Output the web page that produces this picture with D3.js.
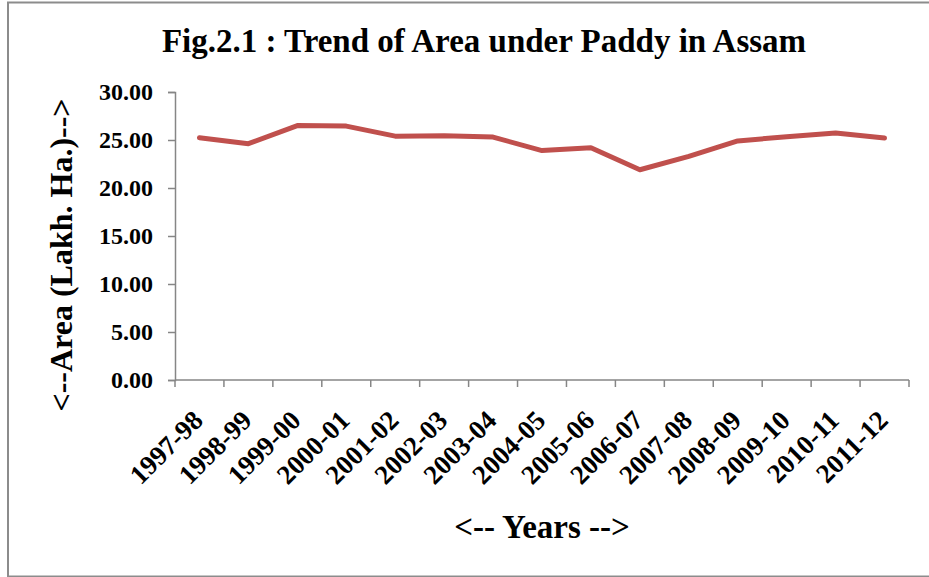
<!DOCTYPE html>
<html>
<head>
<meta charset="utf-8">
<script src="https://cdn.jsdelivr.net/npm/d3@7"></script>
<style>
  body { margin: 0; background: #fff; }
  text { font-family: "Liberation Serif", "Times New Roman", serif; font-weight: bold; fill: #000; }
</style>
</head>
<body>
<script>
var width = 929,
    height = 577;

// chart data
var years = ["1997-98", "1998-99", "1999-00", "2000-01", "2001-02", "2002-03", "2003-04", "2004-05",
    "2005-06", "2006-07", "2007-08", "2008-09", "2009-10", "2010-11", "2011-12"];
var area = [25.24, 24.62, 26.50, 26.45, 25.40, 25.45, 25.30, 23.90, 24.20, 21.90, 23.30, 24.90, 25.35, 25.72, 25.20];
var yTicks = [0, 5, 10, 15, 20, 25, 30];

var svg = d3.select("body").append("svg").attr("width", width).attr("height", height);

// outer frame
svg.append("rect")
    .attr("x", 8).attr("y", 2.5)
    .attr("width", 940).attr("height", 574)
    .attr("fill", "none")
    .attr("stroke", "#8c8c8c")
    .attr("stroke-width", 2);

var x = d3.scaleBand().domain(years).range([175, 909]).padding(0);
var y = d3.scaleLinear().domain([0, 30]).range([380, 92]);

var axisColor = "#868686";

// y axis
var yAxis = svg.append("g")
    .attr("transform", "translate(175,0)")
    .call(d3.axisLeft(y).tickValues(yTicks).tickSize(7).tickPadding(15).tickFormat(d3.format(".2f")));
yAxis.select(".domain").attr("stroke", axisColor).attr("stroke-width", 1.5);
yAxis.selectAll(".tick line").attr("stroke", axisColor).attr("stroke-width", 1.5);
yAxis.selectAll(".tick text")
    .style("font-family", "Liberation Serif, serif")
    .style("font-weight", "bold")
    .style("font-size", "24px")
    .attr("fill", "#000");

// x axis (ticks between categories)
var xAxis = svg.append("g");
xAxis.append("line")
    .attr("x1", x.range()[0]).attr("x2", x.range()[1])
    .attr("y1", y(0)).attr("y2", y(0))
    .attr("stroke", axisColor).attr("stroke-width", 1.5);
var bounds = years.map(function (d) { return x(d); }).concat([x.range()[1]]);
xAxis.selectAll("line.tk")
    .data(bounds)
    .enter()
    .append("line")
    .attr("class", "tk")
    .attr("x1", function (d) { return d; }).attr("x2", function (d) { return d; })
    .attr("y1", y(0)).attr("y2", y(0) + 7)
    .attr("stroke", axisColor).attr("stroke-width", 1.5);

xAxis.selectAll("text.lbl")
    .data(years)
    .enter()
    .append("text")
    .attr("class", "lbl")
    .attr("text-anchor", "end")
    .style("font-size", "27px")
    .attr("transform", function (d) {
        var cx = x(d) + x.bandwidth() / 2 + 5;
        return "translate(" + cx + "," + (y(0) + 42) + ") rotate(-45)";
    })
    .text(function (d) { return d; });

// line
var line = d3.line()
    .x(function (d, i) { return x(years[i]) + x.bandwidth() / 2; })
    .y(function (d) { return y(d); });

svg.append("path")
    .datum(area)
    .attr("d", line)
    .attr("fill", "none")
    .attr("stroke", "#C0504D")
    .attr("stroke-width", 5)
    .attr("stroke-linejoin", "round")
    .attr("stroke-linecap", "round");

// titles
svg.append("text")
    .attr("x", 484).attr("y", 52)
    .attr("text-anchor", "middle")
    .style("font-size", "33px")
    .text("Fig.2.1 : Trend of Area under Paddy in Assam");

svg.append("text")
    .attr("x", 542).attr("y", 538)
    .attr("text-anchor", "middle")
    .style("font-size", "33px")
    .text("<-- Years -->");

svg.append("text")
    .attr("transform", "translate(72,255) rotate(-90)")
    .attr("text-anchor", "middle")
    .style("font-size", "32px")
    .text("<--Area (Lakh. Ha.)-->");
</script>
</body>
</html>
